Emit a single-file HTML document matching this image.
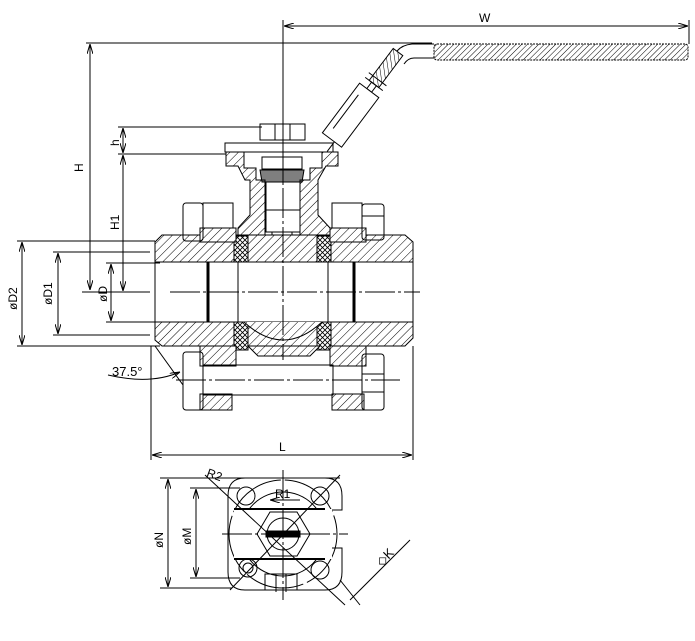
<!DOCTYPE html>
<html><head><meta charset="utf-8"><style>
html,body{margin:0;padding:0;background:#fff}
svg{display:block}
text{font-family:"Liberation Sans",sans-serif;fill:#000}
</style></head><body>
<svg width="695" height="641" viewBox="0 0 695 641" xmlns="http://www.w3.org/2000/svg">
<defs>
<pattern id="h" width="6" height="6" patternUnits="userSpaceOnUse" patternTransform="rotate(45)">
<rect width="6" height="6" fill="#fff"/><line x1="0" y1="0" x2="0" y2="6" stroke="#000" stroke-width="1"/></pattern>
<pattern id="h2" width="4" height="4" patternUnits="userSpaceOnUse" patternTransform="rotate(45)">
<rect width="4" height="4" fill="#fff"/><line x1="0" y1="0" x2="0" y2="4" stroke="#000" stroke-width="1"/></pattern>
<pattern id="x" width="5" height="5" patternUnits="userSpaceOnUse">
<rect width="5" height="5" fill="#fff"/><path d="M0 0L5 5M5 0L0 5" stroke="#000" stroke-width="0.8"/></pattern>
<marker id="a" markerWidth="10" markerHeight="6" refX="10" refY="3" orient="auto-start-reverse" markerUnits="userSpaceOnUse"><path d="M0 0L10 3L0 6" fill="none" stroke="#000"/></marker>
</defs>
<g stroke="#000" stroke-width="1" fill="none">
<line x1="283" y1="20" x2="283" y2="250"/>
<line x1="689" y1="20" x2="689" y2="44"/>
<line x1="284" y1="26" x2="688" y2="26" marker-start="url(#a)" marker-end="url(#a)"/>
<line x1="86" y1="43" x2="432" y2="43"/>
<line x1="90" y1="44" x2="90" y2="290" marker-start="url(#a)" marker-end="url(#a)"/>
<line x1="118" y1="127" x2="262" y2="127"/>
<line x1="118" y1="154" x2="228" y2="154"/>
<line x1="123" y1="128" x2="123" y2="153" marker-start="url(#a)" marker-end="url(#a)"/>
<line x1="123" y1="155" x2="123" y2="291" marker-start="url(#a)" marker-end="url(#a)"/>
<!-- handle -->
<rect x="434" y="44" width="254" height="16" rx="3" fill="url(#h2)" stroke-dasharray="2 1"/>
<path d="M434 44 L412 44 Q402 45 397 51 M434 58 L414 58 Q408 58 404 64"/>
<g transform="translate(398,52) rotate(126.87)">
<rect x="0" y="-6" width="40" height="12" fill="url(#h2)"/>
<line x1="34" y1="-11" x2="34" y2="11"/><line x1="40" y1="-11" x2="40" y2="11"/>
<rect x="40" y="-3" width="8" height="6"/>
<rect x="48" y="-12" width="62" height="24" fill="#fff"/>
<line x1="58" y1="6" x2="100" y2="6"/>
<line x1="110" y1="-3" x2="122" y2="-3"/>
</g>
<rect x="260" y="124" width="45" height="16"/>
<line x1="275" y1="124" x2="275" y2="140"/><line x1="290" y1="124" x2="290" y2="140"/>
<rect x="225" y="143" width="108" height="9"/>
<path d="M226 152 L226 166 L238 166 L245 180 L250 180 L250 215 L238 228 L238 240 L330 240 L330 228 L318 215 L318 180 L326 166 L338 166 L338 152 L322 152 L322 168 L310 168 L310 180 L300 180 L300 235 L265 235 L265 180 L256 180 L256 168 L244 168 L244 152 Z" fill="url(#h)"/>
<rect x="262" y="157" width="40" height="12"/>
<path d="M260 170 L304 170 L302 182 L262 182 Z" fill="#000" fill-opacity="0.5"/>
<rect x="266" y="182" width="34" height="50" fill="#fff"/>
<line x1="266" y1="210" x2="300" y2="210"/>
<rect x="272" y="232" width="20" height="16" fill="#fff"/>
<path d="M155 242 L162 235 L405 235 L413 242 L413 262 L155 262 Z" fill="url(#h)"/>
<path d="M155 322 L413 322 L413 338 L405 346 L162 346 L155 340 Z" fill="url(#h)"/>
<rect x="155" y="262" width="258" height="60" fill="#fff"/>
<line x1="208" y1="262" x2="208" y2="322" stroke-width="3"/>
<line x1="354" y1="262" x2="354" y2="322" stroke-width="3"/>
<line x1="238" y1="262" x2="238" y2="322"/>
<line x1="328" y1="262" x2="328" y2="322"/>
<rect x="234" y="236" width="14" height="26" fill="url(#x)"/>
<rect x="317" y="236" width="14" height="26" fill="url(#x)"/>
<rect x="234" y="322" width="14" height="28" fill="url(#x)"/>
<rect x="317" y="322" width="14" height="28" fill="url(#x)"/>
<path d="M244 322 Q283 358 322 322" fill="url(#h)"/>
<path d="M248 346 L258 356 L310 356 L320 346 Z" fill="url(#h)"/>
<rect x="200" y="228" width="36" height="14" fill="url(#h)"/>
<rect x="330" y="228" width="36" height="14" fill="url(#h)"/>
<rect x="200" y="346" width="36" height="20" fill="url(#h)"/>
<rect x="330" y="346" width="36" height="20" fill="url(#h)"/>
<rect x="200" y="394" width="32" height="16" fill="url(#h)"/>
<rect x="332" y="394" width="32" height="16" fill="url(#h)"/>
<rect x="183" y="203" width="20" height="38" rx="3"/>
<rect x="203" y="203" width="30" height="25"/>
<rect x="332" y="203" width="30" height="25"/>
<rect x="362" y="204" width="22" height="36" rx="3"/><line x1="362" y1="216" x2="384" y2="216"/>
<rect x="183" y="352" width="20" height="58" rx="3"/>
<rect x="203" y="365" width="130" height="30"/>
<rect x="362" y="354" width="22" height="56" rx="3"/><line x1="362" y1="374" x2="384" y2="374"/><line x1="362" y1="392" x2="384" y2="392"/>
<line x1="170" y1="292" x2="420" y2="292" stroke-dasharray="30 3 3 3"/>
<line x1="283" y1="110" x2="283" y2="360" stroke-dasharray="30 3 3 3"/>
<line x1="176" y1="380" x2="400" y2="380" stroke-dasharray="30 3 3 3"/>
<line x1="17" y1="241" x2="155" y2="241"/>
<line x1="17" y1="346" x2="160" y2="346"/>
<line x1="22" y1="242" x2="22" y2="345" marker-start="url(#a)" marker-end="url(#a)"/>
<line x1="53" y1="252" x2="150" y2="252"/>
<line x1="53" y1="335" x2="150" y2="335"/>
<line x1="58" y1="253" x2="58" y2="334" marker-start="url(#a)" marker-end="url(#a)"/>
<line x1="106" y1="263" x2="160" y2="263"/>
<line x1="106" y1="322" x2="160" y2="322"/>
<line x1="111" y1="264" x2="111" y2="321" marker-start="url(#a)" marker-end="url(#a)"/>
<line x1="82" y1="292" x2="150" y2="292"/>
<line x1="151" y1="346" x2="151" y2="460"/>
<line x1="413" y1="346" x2="413" y2="460"/>
<line x1="152" y1="455" x2="412" y2="455" marker-start="url(#a)" marker-end="url(#a)"/>
<line x1="155" y1="346" x2="183" y2="385"/>
<path d="M108 375 Q150 385 180 372" marker-end="url(#a)"/>
<path d="M245 478 L325 478 Q342 478 342 496 L342 510 L330 510 L330 548 L342 548 L342 572 Q342 590 325 590 L245 590 Q228 590 228 572 L228 496 Q228 478 245 478 Z"/>
<circle cx="283" cy="534" r="42"/>
<circle cx="283" cy="534" r="54" stroke-dasharray="60 4"/>
<rect x="234" y="509" width="98" height="50" fill="#fff" stroke="none"/>
<line x1="234" y1="509" x2="325" y2="509" stroke-width="2"/>
<line x1="234" y1="559" x2="325" y2="559" stroke-width="2"/>
<polygon points="270,512 297,512 310,534 297,556 270,556 257,534" fill="#fff"/>
<circle cx="283" cy="534" r="16"/>
<rect x="266" y="531" width="34" height="6" fill="#000"/>
<circle cx="246" cy="496" r="9"/><circle cx="320" cy="496" r="9"/>
<circle cx="320" cy="570" r="9"/><circle cx="248" cy="568" r="9"/><circle cx="248" cy="568" r="5"/>
<path d="M265 590 L265 574 L297 574 L297 590 M276 574 L276 592 M286 574 L286 592"/>
<line x1="212" y1="478" x2="340" y2="478" /><line x1="160" y1="478" x2="230" y2="478"/>
<line x1="160" y1="588" x2="232" y2="588"/>
<line x1="168" y1="479" x2="168" y2="587" marker-start="url(#a)" marker-end="url(#a)"/>
<line x1="190" y1="488" x2="240" y2="488"/>
<line x1="190" y1="578" x2="240" y2="578"/>
<line x1="196" y1="489" x2="196" y2="577" marker-start="url(#a)" marker-end="url(#a)"/>
<line x1="283" y1="470" x2="283" y2="600" stroke-dasharray="30 3 3 3"/>
<line x1="222" y1="534" x2="348" y2="534" stroke-dasharray="30 3 3 3"/>
<line x1="205" y1="475" x2="345" y2="605"/>
<line x1="230" y1="590" x2="340" y2="475"/>
<line x1="340" y1="580" x2="360" y2="605"/>
<line x1="350" y1="600" x2="410" y2="540"/>
<line x1="300" y1="500" x2="270" y2="500" marker-end="url(#a)"/>
</g>
<text x="479" y="22" font-size="12">W</text>
<text transform="translate(83,172) rotate(-90)" font-size="12">H</text>
<text transform="translate(119,146) rotate(-90)" font-size="12">h</text>
<text transform="translate(119,230) rotate(-90)" font-size="12">H1</text>
<text transform="translate(17,310) rotate(-90)" font-size="12">øD2</text>
<text transform="translate(52,305) rotate(-90)" font-size="12">øD1</text>
<text transform="translate(107,302) rotate(-90)" font-size="12">øD</text>
<text x="112" y="376" font-size="13">37.5°</text>
<text x="279" y="451" font-size="12">L</text>
<text x="207" y="478" font-size="12" transform="rotate(20 212 474)">R2</text>
<text x="275" y="498" font-size="12">R1</text>
<text transform="translate(163,548) rotate(-90)" font-size="12">øN</text>
<text transform="translate(191,545) rotate(-90)" font-size="12">øM</text>
<text x="372" y="560" font-size="13" transform="rotate(-45 385 552)">◇K</text>
</svg>
</body></html>
